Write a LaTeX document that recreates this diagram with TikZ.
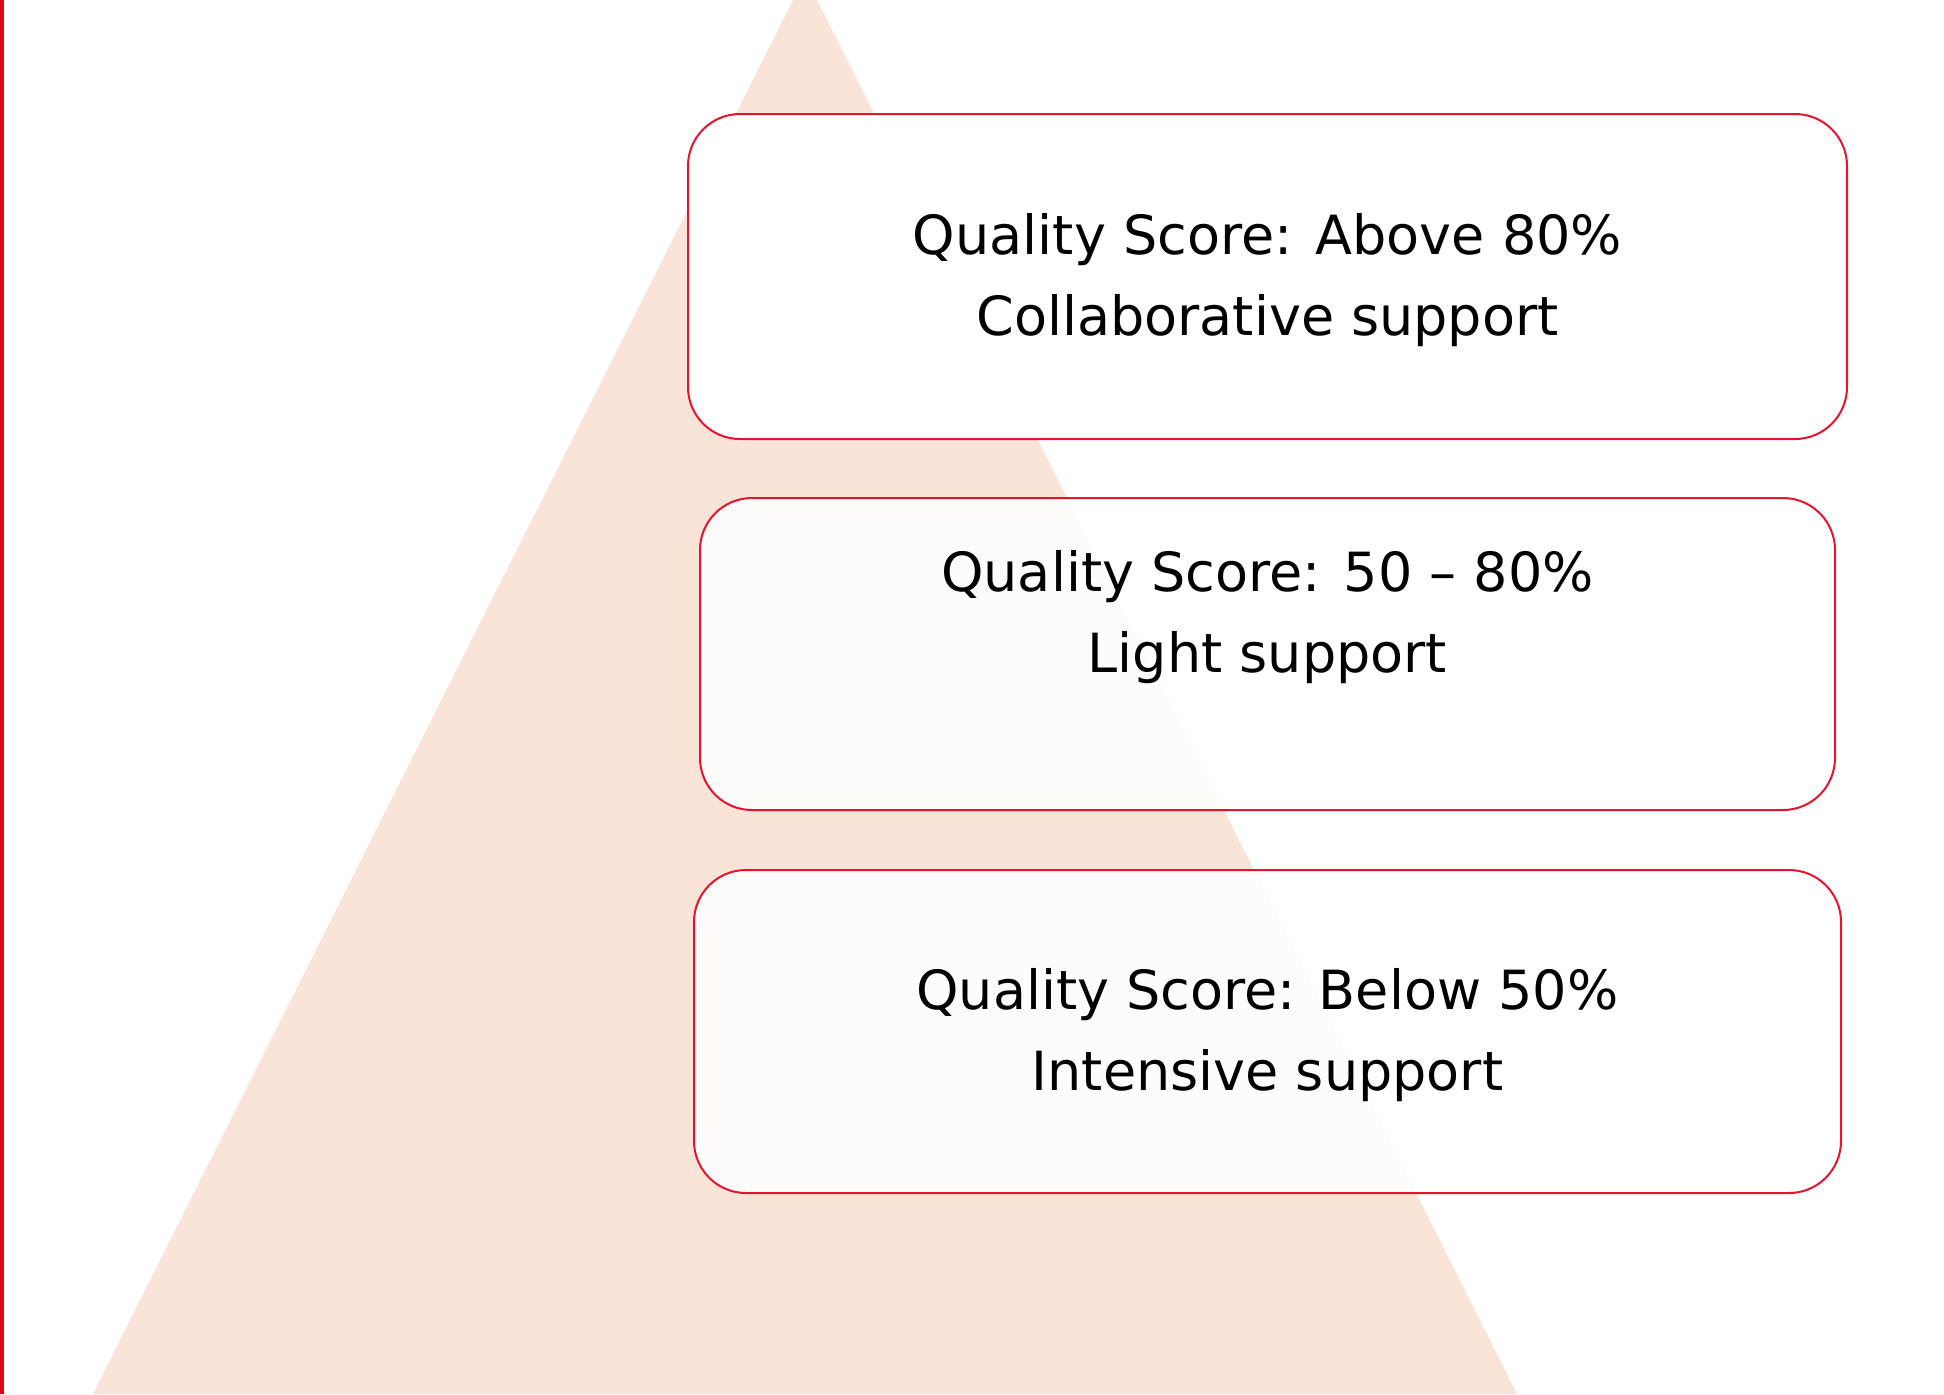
\documentclass[tikz,border=0pt]{standalone}
\usepackage{fontspec}
\setmainfont{DejaVu Sans}
\definecolor{peach}{RGB}{250,228,215}
\definecolor{brandred}{RGB}{228,0,27}
\definecolor{boxred}{RGB}{230,20,45}
\begin{document}
\begin{tikzpicture}[x=0.5pt,y=-0.5pt,
  tierbox/.style={draw=boxred, line width=1pt, rounded corners=26pt},
  tiertext/.style={align=center, font=\fontsize{27}{40.5}\selectfont, text=black}]
\useasboundingbox (0,0) rectangle (1944,1394);
\fill[white] (0,0) rectangle (1944,1394);
% pyramid behind the tiers
\fill[peach] (805,-24) -- (1517,1394) -- (93,1394) -- cycle;
% left accent rule
\fill[brandred] (0,0) rectangle (4,1394);
% tiers
\draw[tierbox, fill=white] (688,114) rectangle (1847,439);
\draw[tierbox, fill=white, fill opacity=0.9] (700,498) rectangle (1835,810);
\draw[tierbox, fill=white, fill opacity=0.9] (694,870) rectangle (1841,1193);
\node[tiertext] (top) at (1267.5,280) {Quality Score: Above 80\%\\Collaborative support};
\node[tiertext] (mid) at (1267.5,617) {Quality Score: 50 – 80\%\\Light support};
\node[tiertext] (low) at (1267.5,1035) {Quality Score: Below 50\%\\Intensive support};
\end{tikzpicture}
\end{document}
